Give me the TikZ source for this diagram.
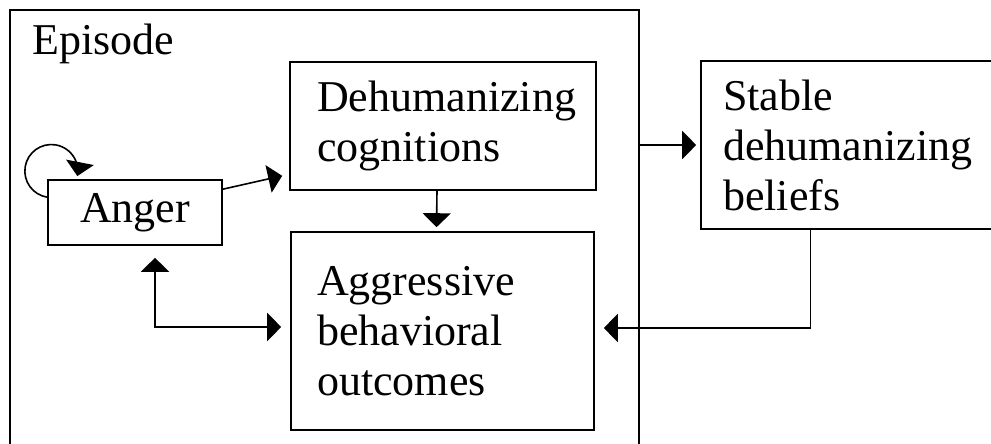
\documentclass[tikz,border=0pt]{standalone}
\usepackage{fontspec}
\setmainfont{Liberation Serif}
\usetikzlibrary{positioning,arrows.meta,calc}
\tikzset{
  block/.style={draw,line width=1.6pt,align=left,inner ysep=0pt,font=\fontsize{44}{50}\selectfont},
  link/.style={line width=1.6pt,->}
}
\begin{document}
\begin{tikzpicture}[x=1pt,y=-1pt,>={Triangle[length=14pt,width=28pt]}]
  \useasboundingbox (0,0) rectangle (991,444);
  % episode frame, open at the bottom
  \draw[line width=1.6pt] (10,447) -- (10,10) coordinate (epiNW) -- (639,10) coordinate (epiNE) -- (639,447);
  \node[font=\fontsize{44}{50}\selectfont,anchor=base west,inner sep=0pt] (episode) at (32,55) {Episode};
  % boxes
  \node[block,align=center,minimum width=174pt,minimum height=65pt] (anger) at (135,212.5) {Anger};
  \node[block,inner xsep=27pt,text width=252pt,minimum height=128pt] (dehum) at (443,126) {Dehumanizing\\cognitions};
  \node[block,inner xsep=26pt,text width=251pt,minimum height=198pt] (aggr) at (442.5,331) {Aggressive\\behavioral\\outcomes};
  \node[block,inner xsep=22pt,text width=247pt,minimum height=168pt] (stable) at (846.5,145) {Stable\\dehumanizing\\beliefs};
  % arrows
  \draw[link] ($(anger.north west)+(0,18)$) arc[start angle=99,end angle=371,radius=26.5];
  \draw[link] ($(anger.north east)+(0,10)$) -- ($(dehum.south west)+(-7,-15)$);
  \draw[link] ($(dehum.south)+(-6,0)$) -- ($(aggr.north)+(-6,-4)$);
  \draw[link] (epiNE |- stable.west) -- ($(stable.west)+(-4,0)$);
  \draw[link] ($(stable.south)+(-36,0)$) |- ($(aggr.east)+(9,-3)$);
  \draw[link,<->] ($(anger.south)+(20,12)$) |- ($(aggr.west)+(-9,-4)$);
\end{tikzpicture}
\end{document}
